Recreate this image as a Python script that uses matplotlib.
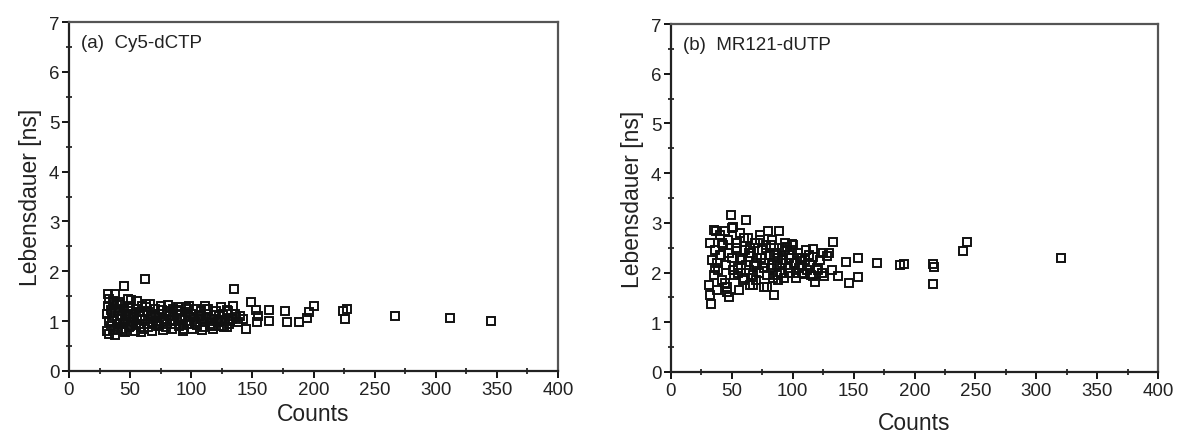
import matplotlib.pyplot as plt
from matplotlib.ticker import MultipleLocator

plt.rcParams['font.family'] = ['Liberation Sans', 'DejaVu Sans']

# (a) Cy5-dCTP : counts, lifetime [ns]
cy5_counts = [32, 33, 32, 31, 31, 33, 34, 35, 36, 38, 38, 40, 40, 42, 42, 44, 45, 45, 46, 47,
              48, 50, 50, 52, 52, 54, 55, 56, 57, 58, 60, 61, 62, 62, 64, 65, 66, 68, 68, 70,
              71, 73, 74, 75, 77, 78, 80, 80, 82, 84, 85, 86, 88, 90, 90, 92, 94, 95, 96, 98,
              100, 101, 102, 104, 105, 106, 108, 110, 110, 112, 114, 115, 117, 118, 120, 121, 123, 125, 126, 128,
              130, 131, 133, 134, 135, 136, 138, 140, 142, 145,
              34, 36, 37, 39, 41, 43, 44, 46, 48, 49, 51, 53, 55, 57, 59, 60, 63, 65, 67, 69,
              72, 74, 76, 78, 79, 81, 83, 87, 89, 91, 93, 97, 99, 103, 107, 109, 111, 113, 116, 119,
              122, 124, 127, 129, 132, 137, 35, 39, 43, 47, 51, 56, 59, 63, 67, 72, 76, 83, 88, 93,
              98, 103, 108, 113, 118, 124, 129, 33, 37, 41, 53, 58, 70, 96, 134,
              149, 153, 155, 154, 164, 164, 177, 178, 188, 195, 196, 200, 224, 226, 227, 267, 312, 345]
cy5_life = [1.55, 1.45, 1.30, 1.15, 0.80, 0.75, 0.90, 1.00, 1.40, 1.55, 0.72, 0.85, 1.20, 1.05, 1.35, 0.95, 1.70, 1.25, 0.78, 1.10,
            1.45, 0.90, 1.30, 1.00, 1.15, 0.80, 1.25, 1.40, 0.95, 1.10, 1.30, 0.85, 1.85, 1.05, 1.20, 0.95, 1.35, 0.80, 1.10, 1.25,
            1.00, 0.90, 1.15, 1.30, 0.82, 1.05, 1.20, 0.95, 1.10, 0.85, 1.25, 1.00, 1.15, 0.90, 1.20, 1.05, 0.85, 1.10, 1.25, 0.95,
            1.15, 0.85, 1.05, 1.25, 0.92, 1.10, 1.20, 0.88, 1.00, 1.15, 1.25, 0.95, 1.05, 0.85, 1.20, 1.00, 1.10, 0.90, 1.15, 1.00,
            1.20, 0.95, 1.05, 1.30, 1.65, 1.15, 0.98, 1.10, 1.05, 0.84,
            1.22, 0.82, 1.10, 0.95, 1.38, 1.12, 0.80, 1.02, 1.20, 0.88, 1.42, 1.08, 0.92, 1.18, 0.78, 1.02, 1.35, 0.88, 1.15, 0.98,
            1.08, 0.92, 1.22, 1.00, 0.88, 1.32, 1.12, 0.95, 1.28, 1.02, 0.80, 1.18, 1.08, 0.95, 1.12, 0.82, 1.30, 1.05, 0.90, 1.12,
            0.98, 1.28, 0.88, 1.22, 1.00, 1.08, 1.18, 1.32, 0.85, 1.15, 0.98, 1.05, 0.88, 1.28, 1.08, 0.95, 1.15, 1.02, 1.22, 0.92,
            1.30, 0.98, 1.05, 1.25, 0.90, 1.02, 0.88, 1.00, 1.35, 0.95, 1.12, 1.18, 1.12, 1.28, 1.05,
            1.38, 1.23, 1.11, 0.99, 1.23, 1.01, 1.21, 0.98, 0.98, 1.06, 1.18, 1.30, 1.21, 1.04, 1.25, 1.11, 1.06, 1.00]

# (b) MR121-dUTP : counts, lifetime [ns]
mr_counts = [33, 32, 31, 32, 37, 44, 48, 51, 49, 62, 80, 89, 85, 99, 95,
             117, 117, 117, 118, 126, 128, 133, 137, 144, 146, 154, 154, 169, 188, 191, 215, 216, 215, 240, 243, 320,
             34, 35, 36, 38, 39, 40, 41, 42, 43, 45, 46, 47, 50, 52, 53, 55, 56, 57, 58, 60,
             61, 63, 64, 65, 66, 68, 69, 70, 71, 72, 73, 75, 76, 77, 78, 79, 81, 82, 83, 84,
             86, 87, 88, 90, 91, 92, 93, 94, 96, 97, 98, 100, 102, 103, 104, 105, 106, 108, 110, 111,
             112, 113, 114, 115, 120, 122, 124, 125, 35, 38, 42, 44, 48, 51, 54, 57, 59, 62,
             65, 67, 70, 73, 76, 79, 82, 85, 88, 91, 94, 97, 101, 107, 109, 121, 36, 40, 46, 50,
             55, 60, 64, 67, 74, 78, 83, 87, 92, 99, 103, 108, 130, 132]
mr_life = [1.37, 1.55, 1.74, 2.60, 2.84, 2.84, 1.50, 2.91, 3.15, 3.06, 2.84, 2.84, 1.55, 2.58, 2.52,
           2.47, 2.31, 1.94, 1.82, 1.94, 2.33, 2.61, 1.94, 2.22, 1.80, 2.29, 1.91, 2.19, 2.16, 2.17, 2.17, 2.11, 1.77, 2.44, 2.62, 2.30,
           2.25, 1.95, 2.45, 1.65, 2.05, 2.75, 2.35, 1.85, 2.55, 2.15, 1.70, 2.65, 2.30, 1.95, 2.50, 2.10, 1.65, 2.80, 2.25, 1.90,
           2.45, 2.70, 2.05, 1.75, 2.40, 2.15, 2.60, 1.85, 2.30, 2.00, 2.75, 2.45, 1.70, 2.20, 2.55, 1.95, 2.35, 2.10, 2.65, 1.90,
           2.40, 2.15, 2.30, 2.00, 2.50, 2.25, 1.90, 2.45, 2.10, 2.35, 2.00, 2.55, 2.20, 1.90, 2.40, 2.10, 2.30, 2.00, 2.25, 2.45,
           2.05, 2.35, 2.15, 1.95, 2.10, 2.25, 2.00, 2.40, 2.85, 2.20, 2.60, 1.80, 2.40, 2.05, 2.60, 2.30, 1.85, 2.15,
           2.50, 1.75, 2.20, 2.65, 2.10, 1.70, 2.55, 2.35, 1.85, 2.20, 2.60, 2.30, 2.20, 2.15, 1.98, 2.05, 2.10, 2.35, 1.60, 2.90,
           2.00, 2.70, 2.40, 1.95, 2.30, 2.50, 2.15, 1.95, 2.25, 2.45, 2.00, 2.30, 2.40, 2.05]

panels = [
    (cy5_counts, cy5_life, '(a)  Cy5-dCTP', [69 / 1179, 67 / 439, 489 / 1179, 349 / 439], 3),
    (mr_counts, mr_life, '(b)  MR121-dUTP', [671 / 1179, 66 / 439, 487 / 1179, 348 / 439], 9),
]

fig = plt.figure(figsize=(11.79, 4.39), dpi=100)
for cnt, life, label, pos, xpad in panels:
    ax = fig.add_axes(pos)
    ax.plot(cnt, life, 's', mfc='none', mec='#111111', ms=6, mew=1.4)
    ax.set_xlim(0, 400)
    ax.set_ylim(0, 7)
    ax.xaxis.set_major_locator(MultipleLocator(50))
    ax.xaxis.set_minor_locator(MultipleLocator(25))
    ax.yaxis.set_major_locator(MultipleLocator(1))
    ax.yaxis.set_minor_locator(MultipleLocator(0.5))
    ax.tick_params(which='major', direction='out', length=5, width=1.3, labelsize=13.5, pad=2,
                   labelcolor='#222222')
    ax.tick_params(which='minor', direction='inout', length=4, width=1.1)
    for s in ['left', 'bottom']:
        ax.spines[s].set_linewidth(1.6)
        ax.spines[s].set_color('#222222')
    for s in ['top', 'right']:
        ax.spines[s].set_linewidth(1.6)
        ax.spines[s].set_color('#555555')
    ax.set_ylabel('Lebensdauer [ns]', fontsize=16.5, labelpad=5, color='#222222')
    ax.set_xlabel('Counts', fontsize=16.5, labelpad=xpad, color='#222222')
    ax.text(0.025, 0.965, label, transform=ax.transAxes, fontsize=13.5, va='top', ha='left',
            color='#222222')

fig.savefig('out.png', dpi=100)
